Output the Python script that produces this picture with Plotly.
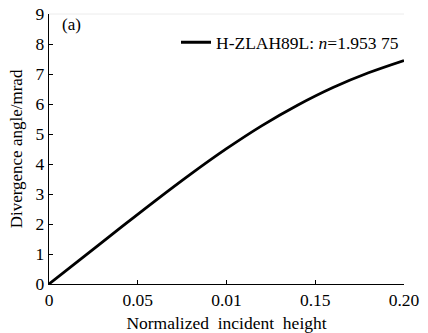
import plotly.graph_objects as go

# Data
height = [0, 0.02, 0.04, 0.06, 0.08, 0.10, 0.12, 0.14, 0.16, 0.18, 0.20]
angle = [0, 0.93, 1.86, 2.78, 3.67, 4.51, 5.28, 5.96, 6.55, 7.04, 7.45]

x_tickvals = [0, 0.05, 0.10, 0.15, 0.20]
x_ticktext = ["0", "0.05", "0.01", "0.15", "0.20"]
y_tickvals = [0, 1, 2, 3, 4, 5, 6, 7, 8, 9]

FONT = "Liberation Serif"

fig = go.Figure()
fig.add_trace(go.Scatter(
    x=height, y=angle, mode="lines",
    line=dict(color="black", width=2.8, shape="spline", smoothing=1.0),
    name="H-ZLAH89L: <i>n</i>=1.953 75",
))

fig.update_layout(
    width=428, height=333,
    margin=dict(l=49, r=24, t=14, b=49),
    paper_bgcolor="white", plot_bgcolor="white",
    font=dict(family=FONT, size=17, color="black"),
    showlegend=True,
    legend=dict(x=1.0, y=0.895, xanchor="right", yanchor="middle",
                bgcolor="rgba(0,0,0,0)", font=dict(family=FONT, size=17.5),
                itemwidth=30, borderwidth=0),
    xaxis=dict(range=[0, 0.2], tickvals=x_tickvals, ticktext=x_ticktext,
               ticks="inside", ticklen=4, tickwidth=1.2, tickcolor="black",
               showline=True, linecolor="black", linewidth=1.3,
               showgrid=False, zeroline=False, automargin=False,
               tickfont=dict(family=FONT, size=17.5),
               title=dict(text="Normalized&nbsp; incident&nbsp; height", standoff=8,
                          font=dict(family=FONT, size=17.5))),
    yaxis=dict(range=[0, 9], tickvals=y_tickvals,
               ticks="inside", ticklen=4, tickwidth=1.2, tickcolor="black",
               showline=True, linecolor="black", linewidth=1.3,
               showgrid=False, zeroline=False, automargin=False,
               tickfont=dict(family=FONT, size=17.5),
               title=dict(text="Divergence angle/mrad", standoff=8,
                          font=dict(family=FONT, size=17))),
    shapes=[
        dict(type="line", xref="paper", yref="paper", x0=0, x1=1, y0=1, y1=1,
             line=dict(color="#ececec", width=1)),
    ],
    annotations=[
        dict(text="(a)", xref="paper", yref="paper", x=0.03, y=0.96,
             xanchor="left", yanchor="middle", showarrow=False,
             font=dict(family=FONT, size=17)),
    ],
)

fig.write_html("out.html")
